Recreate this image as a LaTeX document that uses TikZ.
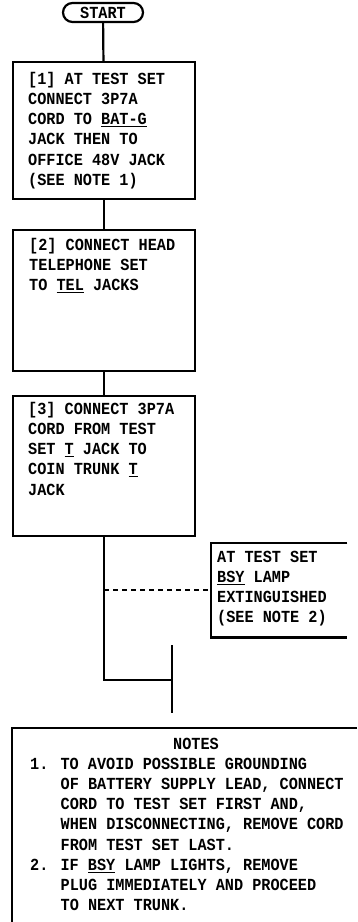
\documentclass[tikz,border=0pt]{standalone}
\usepackage{fontspec}
\newfontfamily\flowfont[FakeStretch=0.9]{Liberation Mono}
\usetikzlibrary{shapes.misc}

\begin{document}
\begin{tikzpicture}[x=1bp, y=-1bp,
  flowline/.style={line width=2.2bp},
  stepbox/.style={draw, line width=2.2bp, minimum width=182bp, inner sep=0pt, anchor=north west},
  steptext/.style={inner sep=0pt, anchor=north west, align=left,
    font={\flowfont\bfseries\fontsize{16.9bp}{20.2bp}\selectfont}},
  termnode/.style={draw, rounded rectangle, line width=2.2bp, minimum width=80bp,
    minimum height=19bp, inner sep=0pt,
    font={\flowfont\bfseries\fontsize{16.9bp}{20.2bp}\selectfont}}]

  \useasboundingbox (0,0) rectangle (357,922);

  % --- Start terminal ---
  \node[termnode] (start) at (103,12.5) {START};

  % --- Step boxes ---
  \node[stepbox, minimum height=137bp] (b1) at (12,61) {};
  \node[steptext] (t1) at (28,70) {\strut[1] AT TEST SET\\CONNECT 3P7A\\CORD TO \underline{BAT-G}\\JACK THEN TO\\OFFICE 48V JACK\\(SEE NOTE 1)};

  \node[stepbox, minimum height=141bp] (b2) at (12,229) {};
  \node[steptext] (t2) at (29,236) {\strut[2] CONNECT HEAD\\TELEPHONE SET\\TO \underline{TEL} JACKS};

  \node[stepbox, minimum height=140bp] (b3) at (12,395) {};
  \node[steptext] (t3) at (28,400) {\strut[3] CONNECT 3P7A\\CORD FROM TEST\\SET \underline{T} JACK TO\\COIN TRUNK \underline{T}\\JACK};

  % Side box, open on the right
  \node[inner sep=0pt, anchor=north west, minimum width=136bp, minimum height=94bp] (side) at (211,543) {};
  \draw[flowline] (side.north east) -- (side.north west) -- (side.south west) -- (side.south east);
  \node[steptext] (ts) at (217,548) {\strut AT TEST SET\\\underline{BSY} LAMP\\EXTINGUISHED\\(SEE NOTE 2)};

  % --- Connectors ---
  \coordinate (join) at (172,680);
  \coordinate (jtop) at (172,645);
  \coordinate (jbot) at (172,713);

  \draw[flowline] (start) -- (b1);
  \draw[flowline] (b1) -- (b2);
  \draw[flowline] (b2) -- (b3);
  \draw[flowline] (b3.south) -- (b3.south |- join) -- (join);
  \draw[flowline] (jtop) -- (jbot);
  \draw[flowline, dash pattern=on 5bp off 4bp] (b3.south |- side.west) -- (side.west);

  % --- Notes ---
  \coordinate (notescorner) at (12,728);
  \draw[flowline] (357,728) -- (notescorner) -- (12,922);
  \node[steptext, anchor=base] (notes) at (196,749) {NOTES};
  \node[steptext] (tn) at (30,755) {\strut 1. TO AVOID POSSIBLE GROUNDING\\
    \phantom{1. }OF BATTERY SUPPLY LEAD, CONNECT\\
    \phantom{1. }CORD TO TEST SET FIRST AND,\\
    \phantom{1. }WHEN DISCONNECTING, REMOVE CORD\\
    \phantom{1. }FROM TEST SET LAST.\\
    2. IF \underline{BSY} LAMP LIGHTS, REMOVE\\
    \phantom{2. }PLUG IMMEDIATELY AND PROCEED\\
    \phantom{2. }TO NEXT TRUNK.};

\end{tikzpicture}
\end{document}
